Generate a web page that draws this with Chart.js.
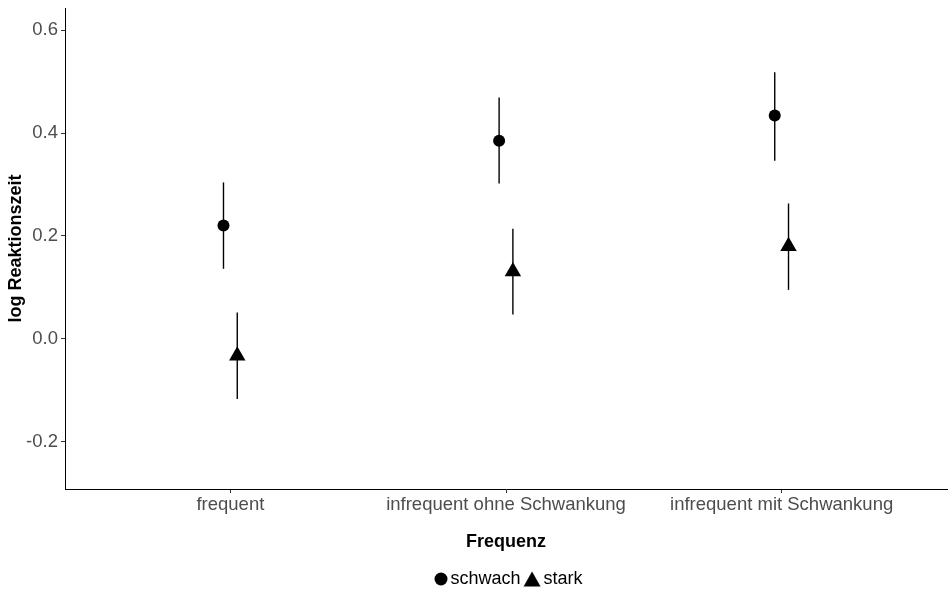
<!DOCTYPE html>
<html>
<head>
<meta charset="utf-8">
<script src="https://cdn.jsdelivr.net/npm/chart.js@4/dist/chart.umd.min.js"></script>
<style>
  html, body { margin: 0; padding: 0; background: #fff; }
  #wrap { width: 948px; height: 590px; }
</style>
</head>
<body>
<div id="wrap"><canvas id="chart" width="948" height="590"></canvas></div>
<script>
const categories = ['frequent', 'infrequent ohne Schwankung', 'infrequent mit Schwankung'];
const schwachMean = [0.220, 0.385, 0.434];
const schwachLow = [0.136, 0.302, 0.346];
const schwachHigh = [0.304, 0.469, 0.518];
const starkMean = [-0.033, 0.131, 0.180];
const starkLow = [-0.117, 0.047, 0.095];
const starkHigh = [0.051, 0.214, 0.263];
const yTicks = [-0.2, 0.0, 0.2, 0.4, 0.6];
const dodge = 0.025;

Chart.defaults.font.family = '"Liberation Sans", Arial, sans-serif';

function points(means, shift) {
    return means.map((m, i) => ({ x: i + 1 + shift, y: m }));
}

// legend markers, drawn a bit right of centre so they sit close to their text
function legendIcon(kind) {
    const c = document.createElement('canvas');
    c.width = 25;
    c.height = 16;
    const g = c.getContext('2d');
    g.fillStyle = '#000';
    g.beginPath();
    if (kind === 'circle') {
        g.arc(18, 8, 6.5, 0, Math.PI * 2);
    } else {
        g.moveTo(16, 0.5);
        g.lineTo(24.5, 15.5);
        g.lineTo(7.5, 15.5);
        g.closePath();
    }
    g.fill();
    return c;
}
const legendIcons = [legendIcon('circle'), legendIcon('triangle')];

const errorBars = {
    id: 'errorBars',
    beforeDatasetsDraw(chart) {
        const ctx = chart.ctx;
        const xs = chart.scales.x, ys = chart.scales.y;
        const sets = [[schwachLow, schwachHigh, -dodge], [starkLow, starkHigh, dodge]];
        ctx.save();
        ctx.strokeStyle = '#000';
        ctx.lineWidth = 1.4;
        sets.forEach(([lo, hi, shift]) => {
            lo.forEach((l, i) => {
                const px = xs.getPixelForValue(i + 1 + shift);
                ctx.beginPath();
                ctx.moveTo(px, ys.getPixelForValue(l));
                ctx.lineTo(px, ys.getPixelForValue(hi[i]));
                ctx.stroke();
            });
        });
        ctx.restore();
    }
};

new Chart(document.getElementById('chart'), {
    type: 'scatter',
    data: {
        datasets: [
            {
                label: 'schwach',
                data: points(schwachMean, -dodge),
                pointStyle: 'circle',
                pointRadius: 6,
                borderWidth: 0,
                backgroundColor: '#000',
                borderColor: '#000'
            },
            {
                label: 'stark',
                data: points(starkMean, dodge),
                pointStyle: 'triangle',
                pointRadius: 9.5,
                borderWidth: 0,
                backgroundColor: '#000',
                borderColor: '#000'
            }
        ]
    },
    plugins: [errorBars],
    options: {
        responsive: false,
        animation: false,
        layout: { autoPadding: false, padding: { top: 8, right: 1, left: 0, bottom: -8 } },
        plugins: {
            tooltip: { enabled: false },
            legend: {
                position: 'bottom',
                fullSize: false,
                labels: {
                    usePointStyle: true,
                    color: '#000',
                    font: { size: 18 },
                    padding: 2,
                    boxWidth: 12,
                    boxHeight: 12,
                    generateLabels: chart => Chart.defaults.plugins.legend.labels.generateLabels(chart)
                        .map((l, i) => Object.assign(l, { pointStyle: legendIcons[i] }))
                }
            }
        },
        scales: {
            x: {
                type: 'linear',
                min: 0.4,
                max: 3.6,
                afterBuildTicks: s => { s.ticks = categories.map((c, i) => ({ value: i + 1 })); },
                afterFit: s => { s.height = 79; s.paddingLeft = 0; s.paddingRight = 0; },
                ticks: {
                    callback: v => categories[Math.round(v) - 1],
                    color: '#4d4d4d',
                    font: { size: 18.5 },
                    padding: 1,
                    maxRotation: 0
                },
                grid: { drawOnChartArea: false, tickLength: 4, color: '#333' },
                border: { color: '#000', width: 1 },
                title: {
                    display: true,
                    text: 'Frequenz',
                    color: '#000',
                    font: { size: 18, weight: 'bold' },
                    padding: { top: 0, bottom: 15 }
                }
            },
            y: {
                min: -0.292,
                max: 0.643,
                afterBuildTicks: s => { s.ticks = yTicks.map(v => ({ value: v })); },
                afterFit: s => { s.width = 65; s.paddingTop = 0; s.paddingBottom = 0; },
                ticks: {
                    callback: v => v.toFixed(1),
                    color: '#4d4d4d',
                    font: { size: 18.5 },
                    padding: 3
                },
                grid: { drawOnChartArea: false, tickLength: 4, color: '#333' },
                border: { color: '#000', width: 1 },
                title: {
                    display: true,
                    text: 'log Reaktionszeit',
                    color: '#000',
                    font: { size: 18, weight: 'bold' },
                    padding: { top: 5, bottom: 0 }
                }
            }
        }
    }
});
</script>
</body>
</html>
